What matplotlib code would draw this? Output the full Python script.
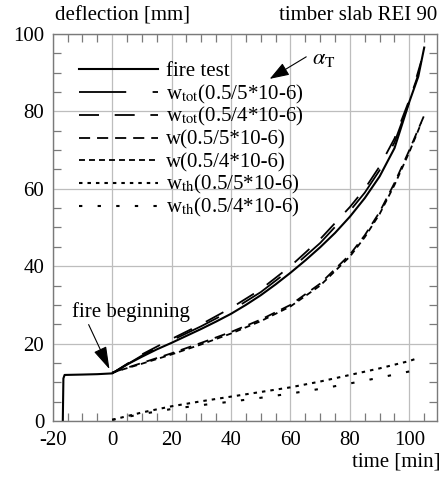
import matplotlib
matplotlib.use("Agg")
import matplotlib.pyplot as plt
from matplotlib.ticker import MultipleLocator

plt.rcParams['font.family'] = ['Liberation Serif', 'DejaVu Serif']
plt.rcParams['mathtext.fontset'] = 'stix'
plt.rcParams['lines.scale_dashes'] = False
plt.rcParams['axes.unicode_minus'] = False

FS = 15

# ---- data ----
t_fire = [-16.6, -16.4, -16.0, -10, -5, 0, 5, 10, 15, 20, 25, 30, 35, 40, 45, 50, 55, 60,
          65, 70, 75, 80, 85, 90, 95, 100, 103, 105]
y_fire = [0, 11.0, 11.9, 12.0, 12.1, 12.3, 14.6, 16.6, 18.5, 20.2, 22.0, 23.8, 25.7, 27.7,
          30.0, 32.5, 35.3, 38.3, 41.5, 44.9, 48.6, 52.8, 57.6, 63.2, 70.5, 82.5, 89.0, 96.5]

t_wtot5 = [0, 10, 20, 30, 40, 50, 60, 70, 80, 85, 90, 95, 100, 104]
y_wtot5 = [12.3, 16.9, 20.8, 24.5, 28.5, 33.3, 39.2, 46.0, 54.3, 59.0, 64.8, 72.0, 82.5, 93.0]

t_wtot4 = [0, 10, 20, 30, 40, 50, 60, 70, 80, 85, 90, 95, 100, 103]
y_wtot4 = [12.3, 17.2, 21.2, 25.0, 29.2, 34.0, 40.0, 47.0, 55.3, 60.0, 65.8, 73.0, 83.0, 89.5]

t_w5 = [0, 10, 20, 30, 40, 50, 60, 70, 80, 85, 90, 95, 100, 105]
y_w5 = [12.5, 15.0, 17.5, 20.2, 23.0, 26.2, 30.0, 35.5, 43.0, 48.0, 54.0, 61.5, 70.0, 79.0]

t_w4 = [0, 10, 20, 30, 40, 50, 60, 70, 80, 85, 90, 95, 100, 104]
y_w4 = [12.5, 14.8, 17.2, 19.8, 22.6, 25.8, 29.6, 35.0, 42.5, 47.5, 53.5, 61.0, 69.5, 77.0]

t_wth5 = [0, 10, 20, 30, 40, 50, 60, 70, 80, 90, 100, 103]
y_wth5 = [0.3, 2.2, 3.8, 5.1, 6.3, 7.5, 8.7, 10.2, 11.9, 13.6, 15.5, 16.3]

t_wth4 = [0, 10, 20, 30, 40, 50, 60, 70, 80, 90, 100]
y_wth4 = [0.3, 1.8, 3.1, 4.1, 5.0, 6.0, 7.1, 8.3, 9.7, 11.2, 12.8]

labels = ['fire test',
          r'w$_{\mathrm{tot}}$(0.5/5*10-6)',
          r'w$_{\mathrm{tot}}$(0.5/4*10-6)',
          'w(0.5/5*10-6)',
          'w(0.5/4*10-6)',
          r'w$_{\mathrm{th}}$(0.5/5*10-6)',
          r'w$_{\mathrm{th}}$(0.5/4*10-6)']

xticks = [-20, 0, 20, 40, 60, 80, 100]
yticks = [0, 20, 40, 60, 80, 100]

# ---- styles ----
series = [
    (t_fire, y_fire, dict(lw=1.5, ls='-')),
    (t_wtot5, y_wtot5, dict(lw=1.3, dashes=(34, 19))),
    (t_wtot4, y_wtot4, dict(lw=1.3, dashes=(14.4, 11.3))),
    (t_w5, y_w5, dict(lw=1.3, dashes=(8, 5))),
    (t_w4, y_w4, dict(lw=1.3, dashes=(4.3, 2.9))),
    (t_wth5, y_wth5, dict(lw=1.5, dashes=(2.5, 3.6))),
    (t_wth4, y_wth4, dict(lw=1.5, dashes=(2.4, 11))),
]

fig = plt.figure(figsize=(4.45, 4.78), dpi=100)
ax = fig.add_axes([52.7 / 445, 57 / 478, 384.3 / 445, 387 / 478])

for tx, ty, st in series:
    ax.plot(tx, ty, color='black', **st)

ax.set_xlim(-20, 109.3)
ax.set_ylim(0, 100)
ax.set_xticks(xticks)
ax.set_yticks(yticks)
ax.xaxis.set_minor_locator(MultipleLocator(5))
ax.yaxis.set_minor_locator(MultipleLocator(5))
ax.grid(True, which='major', color='#bdbdbd', lw=0.9)
for s in ax.spines.values():
    s.set_color('#7a7a7a')
    s.set_linewidth(1.0)
ax.tick_params(which='both', direction='in', top=True, right=True, colors='#7a7a7a',
               labelcolor='black', labelsize=FS)
ax.tick_params(axis='x', which='major', length=0, pad=7)
ax.tick_params(axis='y', which='major', length=0, pad=6)
ax.tick_params(which='minor', length=6, width=0.9)

# ---- manual legend ----
x0, x1, xt = 0.069, 0.275, 0.295
for i, ((tx, ty, st), lab) in enumerate(zip(series, labels)):
    yy = 0.9085 - 0.0587 * i
    ax.plot([x0, x1], [yy, yy], transform=ax.transAxes, color='black', **st)
    ax.text(xt, yy - 0.018, lab, transform=ax.transAxes, fontsize=FS, va='baseline', ha='left')

# ---- annotations ----
ax.annotate('fire beginning', xy=(-0.9, 13.4), xytext=(-13.5, 28.2), fontsize=FS,
            ha='left', va='center',
            arrowprops=dict(arrowstyle='-|>,head_length=1.0,head_width=0.3', mutation_scale=14,
                            color='black', lw=0.8, shrinkA=0, shrinkB=0,
                            relpos=(0.13, 0.0)))
ax.annotate('', xy=(53.0, 88.4), xytext=(65.3, 94.1),
            arrowprops=dict(arrowstyle='-|>,head_length=1.0,head_width=0.35', mutation_scale=12,
                            color='black', lw=0.8, shrinkA=0, shrinkB=0))
ax.text(67.1, 93.3, r'$\alpha_{\mathrm{T}}$', fontsize=FS + 1, ha='left', va='center')

fig.text(55 / 445, 1 - 16 / 478, 'deflection [mm]', fontsize=FS, ha='left', va='center')
fig.text(437 / 445, 1 - 16 / 478, 'timber slab REI 90', fontsize=FS, ha='right', va='center')
fig.text(441 / 445, 1 - 462 / 478, 'time [min]', fontsize=FS, ha='right', va='center')

fig.savefig('out.png', dpi=100)
